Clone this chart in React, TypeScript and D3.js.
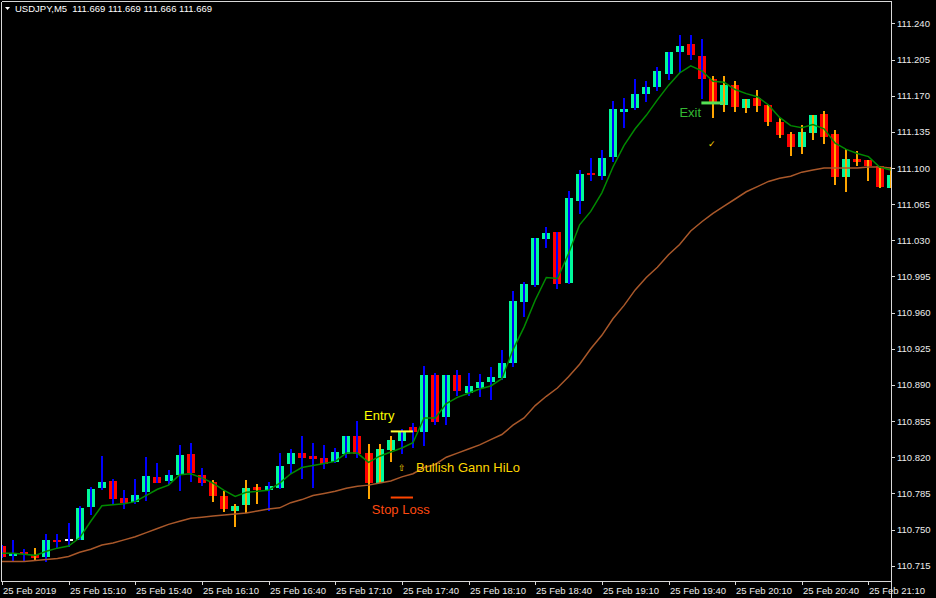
import React from "react";
import * as d3 from "d3";

// ---- Data (USDJPY M5, 25 Feb 2019, 14:40 .. 21:20) ----
const openP = [
  110.734, 110.724, 110.728, 110.725, 110.723, 110.740, 110.740, 110.740, 110.772, 110.790,
  110.797, 110.781, 110.777, 110.786, 110.801, 110.797, 110.803, 110.823, 110.803, 110.796,
  110.782, 110.768, 110.774, 110.791, 110.788, 110.790, 110.813, 110.824, 110.821, 110.819,
  110.815, 110.823, 110.841, 110.824, 110.795, 110.827, 110.836, 110.849, 110.844, 110.900,
  110.859, 110.900, 110.882, 110.887, 110.893, 110.897, 110.911, 110.970, 110.987, 111.031,
  111.038, 110.989, 111.068, 111.095, 111.092, 111.111, 111.154, 111.158, 111.172, 111.178,
  111.191, 111.212, 111.220, 111.208, 111.186, 111.161, 111.180, 111.158, 111.168, 111.161,
  111.145, 111.133, 111.120, 111.134, 111.152, 111.133, 111.091, 111.109, 111.108, 111.102,
  111.081,
];
const highP = [
  110.735, 110.740, 110.731, 110.732, 110.746, 110.746, 110.756, 110.773, 110.791, 110.821,
  110.799, 110.788, 110.799, 110.820, 110.814, 110.808, 110.832, 110.834, 110.810, 110.798,
  110.787, 110.775, 110.798, 110.794, 110.796, 110.824, 110.828, 110.841, 110.834, 110.832,
  110.829, 110.841, 110.855, 110.833, 110.833, 110.841, 110.847, 110.853, 110.908, 110.902,
  110.900, 110.904, 110.902, 110.901, 110.907, 110.924, 110.981, 110.990, 111.032, 111.043,
  111.038, 111.078, 111.098, 111.110, 111.117, 111.165, 111.168, 111.186, 111.184, 111.198,
  111.212, 111.229, 111.229, 111.225, 111.189, 111.189, 111.184, 111.167, 111.176, 111.161,
  111.148, 111.135, 111.142, 111.151, 111.155, 111.137, 111.118, 111.116, 111.108, 111.102,
  111.101,
];
const lowP = [
  110.722, 110.719, 110.719, 110.720, 110.719, 110.732, 110.733, 110.740, 110.764, 110.788,
  110.774, 110.770, 110.775, 110.778, 110.795, 110.793, 110.787, 110.796, 110.792, 110.777,
  110.767, 110.752, 110.766, 110.775, 110.768, 110.789, 110.804, 110.799, 110.790, 110.809,
  110.814, 110.819, 110.819, 110.780, 110.795, 110.815, 110.823, 110.829, 110.831, 110.851,
  110.851, 110.879, 110.879, 110.878, 110.875, 110.895, 110.907, 110.956, 110.985, 111.023,
  110.983, 110.988, 111.055, 111.087, 111.088, 111.106, 111.139, 111.156, 111.164, 111.175,
  111.185, 111.192, 111.205, 111.167, 111.148, 111.154, 111.154, 111.153, 111.154, 111.141,
  111.129, 111.112, 111.114, 111.127, 111.123, 111.084, 111.077, 111.102, 111.087, 111.081,
  111.081,
];
const closeP = [
  110.723, 110.727, 110.726, 110.722, 110.740, 110.738, 110.740, 110.771, 110.789, 110.796,
  110.780, 110.776, 110.783, 110.802, 110.795, 110.803, 110.822, 110.805, 110.795, 110.782,
  110.770, 110.773, 110.790, 110.788, 110.792, 110.812, 110.824, 110.819, 110.818, 110.813,
  110.825, 110.841, 110.823, 110.795, 110.828, 110.837, 110.844, 110.844, 110.900, 110.854,
  110.900, 110.884, 110.889, 110.893, 110.898, 110.911, 110.971, 110.988, 111.032, 111.037,
  110.988, 111.071, 111.094, 111.093, 111.110, 111.157, 111.157, 111.172, 111.178, 111.194,
  111.212, 111.218, 111.209, 111.186, 111.163, 111.180, 111.159, 111.167, 111.160, 111.145,
  111.132, 111.120, 111.135, 111.151, 111.130, 111.091, 111.109, 111.106, 111.102, 111.082,
  111.093,
];
// bar state of the overlay indicator: "u" = up-state bar, "d" = down-state bar
const barState = [
  "u","u","u","d","u","u","u","u","u","u",
  "u","u","u","u","u","u","u","u","u","d",
  "d","d","d","d","u","u","u","u","u","u",
  "u","u","u","d","d","d","u","u","u","u",
  "u","u","u","u","u","u","u","u","u","u",
  "u","u","u","u","u","u","u","u","u","u",
  "u","u","u","u","d","d","d","d","d","d",
  "d","d","d","d","d","d","d","d","d","d",
  "d",
];
const maFast = [
  110.727, 110.727, 110.726, 110.725, 110.729, 110.732, 110.734, 110.742, 110.758, 110.773,
  110.774, 110.775, 110.777, 110.783, 110.789, 110.793, 110.803, 110.804, 110.800, 110.795,
  110.788, 110.782, 110.786, 110.787, 110.788, 110.795, 110.804, 110.810, 110.812, 110.814,
  110.816, 110.824, 110.824, 110.815, 110.821, 110.825, 110.829, 110.834, 110.858, 110.858,
  110.872, 110.878, 110.882, 110.886, 110.889, 110.896, 110.924, 110.946, 110.972, 110.994,
  110.993, 111.017, 111.045, 111.058, 111.076, 111.101, 111.122, 111.138, 111.151, 111.166,
  111.180, 111.192, 111.199, 111.194, 111.184, 111.183, 111.176, 111.172, 111.169, 111.161,
  111.149, 111.141, 111.139, 111.142, 111.138, 111.124, 111.118, 111.114, 111.111, 111.101,
  111.098,
];
const maSlow = [
  110.719, 110.719, 110.719, 110.720, 110.721, 110.722, 110.724, 110.728, 110.731, 110.735,
  110.737, 110.740, 110.743, 110.747, 110.751, 110.755, 110.758, 110.761, 110.762, 110.763,
  110.764, 110.765, 110.766, 110.768, 110.770, 110.771, 110.776, 110.779, 110.783, 110.785,
  110.787, 110.790, 110.792, 110.793, 110.795, 110.797, 110.801, 110.804, 110.810, 110.813,
  110.820, 110.824, 110.828, 110.832, 110.837, 110.842, 110.851, 110.858, 110.870, 110.879,
  110.887, 110.898, 110.910, 110.925, 110.938, 110.954, 110.967, 110.982, 110.994, 111.004,
  111.016, 111.026, 111.039, 111.048, 111.056, 111.063, 111.070, 111.077, 111.082, 111.087,
  111.090, 111.092, 111.096, 111.098, 111.100, 111.100, 111.100, 111.100, 111.101, 111.101,
  111.100,
];
const priceTicks = [
  110.715, 110.75, 110.785, 110.82, 110.855, 110.89, 110.925, 110.96, 110.995,
  111.03, 111.065, 111.1, 111.135, 111.17, 111.205, 111.24,
];
const timeTickIndex = [0, 6, 12, 18, 24, 30, 36, 42, 48, 54, 60, 66, 72, 78];
const timeTickLabels = [
  "25 Feb 2019", "25 Feb 15:10", "25 Feb 15:40", "25 Feb 16:10", "25 Feb 16:40",
  "25 Feb 17:10", "25 Feb 17:40", "25 Feb 18:10", "25 Feb 18:40", "25 Feb 19:10",
  "25 Feb 19:40", "25 Feb 20:10", "25 Feb 20:40", "25 Feb 21:10",
];
const titleText = "USDJPY,M5  111.669 111.669 111.666 111.669";
// annotation levels
const entryLevel = 110.845;
const stopLevel = 110.781;
const exitLevel = 111.163;

const FONT = "'Liberation Sans', Arial, sans-serif";

export default function App() {
  const W = 936;
  const H = 598;
  const plotL = 2, plotR = 891.5, plotT = 2, plotB = 581;
  const x = d3.scaleLinear().domain([0, 80]).range([1.9, 890.7]);
  const y = d3.scaleLinear().domain([110.715, 111.24]).range([565.7, 23.4]);

  const lineGen = d3
    .line<number>()
    .x((_, i) => x(i))
    .y((v) => y(v));

  const bodyW = 8;
  const candles = openP.map((o, i) => {
    const c = closeP[i];
    const cx = Math.round(x(i));
    const top = y(Math.max(o, c));
    const bot = y(Math.min(o, c));
    const doji = o === c;
    const bull = c > o;
    return (
      <g key={i}>
        <rect
          x={cx - bodyW / 2}
          y={doji ? top - 0.5 : top}
          width={bodyW}
          height={Math.max(doji ? 1.5 : 2, bot - top)}
          fill={doji ? "#ffffff" : bull ? "#00fa9a" : "#ff0000"}
        />
        <rect
          x={cx - 1}
          y={y(highP[i])}
          width={2}
          height={Math.max(1, y(lowP[i]) - y(highP[i]))}
          fill={barState[i] === "d" ? "#ffa500" : "#0000ff"}
        />
      </g>
    );
  });

  return (
    <div style={{ position: "absolute", left: 0, top: 0, width: W, height: H, background: "#000" }}>
      <svg width={W} height={H} style={{ display: "block", background: "#000" }}>
        <defs>
          <clipPath id="plot">
            <rect x={plotL} y={plotT} width={plotR - plotL} height={plotB - plotT} />
          </clipPath>
        </defs>
        <g clipPath="url(#plot)" shapeRendering="crispEdges">
          {candles}
        </g>
        <g clipPath="url(#plot)">
          <path d={lineGen(maSlow) || ""} fill="none" stroke="#a9582a" strokeWidth={1.5} />
          <path d={lineGen(maFast) || ""} fill="none" stroke="#008a00" strokeWidth={1.5} />
        </g>

        {/* annotations */}
        <g fontFamily={FONT} fontSize={13}>
          <text x={x(32.6)} y={y(110.8565)} fill="#ffff00">Entry</text>
          <rect x={x(35)} y={y(entryLevel) - 1} width={x(37) - x(35)} height={2} fill="#ffff33" />
          <text x={x(36)} y={y(110.8063)} fill="#ffd700" fontSize={9} textAnchor="middle"
            fontFamily="'DejaVu Sans', sans-serif">⇧</text>
          <text x={x(37.27)} y={y(110.8055)} fill="#ffd700">Bullish Gann HiLo</text>
          <rect x={x(35)} y={y(stopLevel) - 1} width={x(37) - x(35)} height={2} fill="#ff4500" />
          <text x={x(33.3)} y={y(110.7655)} fill="#ff4a10">Stop Loss</text>
          <text x={x(60.98)} y={y(111.149)} fill="#33b833">Exit</text>
          <rect x={x(62.96)} y={y(exitLevel) - 1.5} width={x(65) - x(62.96)} height={3} fill="#55e055" />
          <text x={x(63.9)} y={y(111.120)} fill="#ffd700" fontSize={9} textAnchor="middle"
            fontFamily="'DejaVu Sans', sans-serif">✓</text>
        </g>

        {/* frame */}
        <g shapeRendering="crispEdges" stroke="#d8d8d8" strokeWidth={1}>
          <line x1={1.5} y1={1.5} x2={891.5} y2={1.5} />
          <line x1={1.5} y1={1.5} x2={1.5} y2={581.5} />
          <line x1={891.5} y1={1.5} x2={891.5} y2={598} />
          <line x1={1.5} y1={581.5} x2={891.5} y2={581.5} />
        </g>

        {/* price axis */}
        <g fontFamily={FONT} fontSize={9.5} fill="#ececec">
          {priceTicks.map((p) => (
            <g key={p}>
              <line x1={892} x2={895} y1={Math.round(y(p)) + 0.5} y2={Math.round(y(p)) + 0.5}
                stroke="#d8d8d8" shapeRendering="crispEdges" />
              <text x={897} y={y(p) + 3.5}>{p.toFixed(3)}</text>
            </g>
          ))}
        </g>

        {/* time axis */}
        <g fontFamily={FONT} fontSize={9.5} fill="#ececec">
          {timeTickIndex.map((ti, k) => {
            const tx = Math.round(x(ti)) + 0.5;
            return (
              <g key={ti}>
                <line x1={tx} x2={tx} y1={582} y2={585} stroke="#d8d8d8" shapeRendering="crispEdges" />
                <text x={tx + 0.5} y={593.5}>{timeTickLabels[k]}</text>
              </g>
            );
          })}
        </g>

        {/* title */}
        <path d="M5,7 L10,7 L7.5,10 Z" fill="#ffffff" />
        <text x={15} y={11.5} fontFamily={FONT} fontSize={9.5} fill="#ffffff" xmlSpace="preserve">
          {titleText}
        </text>
      </svg>
    </div>
  );
}
